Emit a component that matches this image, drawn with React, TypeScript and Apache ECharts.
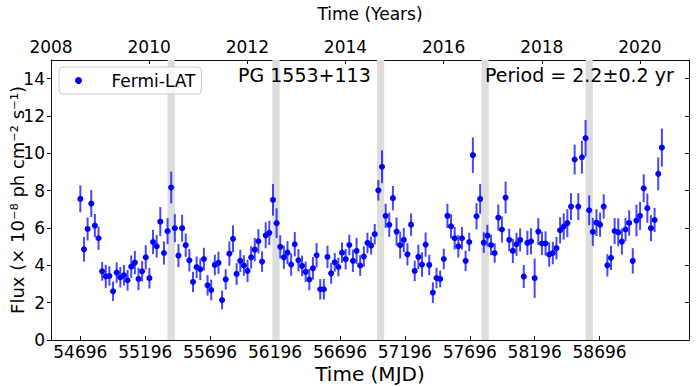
import React, { useEffect, useRef } from "react";
import * as echarts from "echarts";

const mjd = [
  54696, 54724, 54752, 54780, 54808, 54836, 54864, 54892, 54920, 54948,
  54976, 55004, 55032, 55060, 55088, 55116, 55144, 55172, 55200, 55228,
  55256, 55284, 55312, 55340, 55368, 55396, 55424, 55452, 55480, 55508,
  55536, 55564, 55592, 55620, 55648, 55676, 55704, 55732, 55760, 55788,
  55816, 55844, 55872, 55900, 55928, 55956, 55984, 56012, 56040, 56068,
  56096, 56124, 56152, 56180, 56208, 56236, 56264, 56292, 56320, 56348,
  56376, 56404, 56432, 56460, 56488, 56516, 56544, 56572, 56600, 56628,
  56656, 56684, 56712, 56740, 56768, 56796, 56824, 56852, 56880, 56908,
  56936, 56964, 56992, 57020, 57048, 57076, 57104, 57132, 57160, 57188,
  57216, 57244, 57272, 57300, 57328, 57356, 57384, 57412, 57440, 57468,
  57496, 57524, 57552, 57580, 57608, 57636, 57664, 57692, 57720, 57748,
  57776, 57804, 57832, 57860, 57888, 57916, 57944, 57972, 58000, 58028,
  58056, 58084, 58112, 58140, 58168, 58196, 58224, 58252, 58280, 58308,
  58336, 58364, 58392, 58420, 58448, 58476, 58504, 58532, 58560, 58588,
  58616, 58644, 58672, 58700, 58728, 58756, 58784, 58812, 58840, 58868,
  58896, 58924, 58952, 58980, 59008, 59036, 59064, 59092, 59120, 59148,
  59176,
];

const flux = [
  7.56, 4.86, 5.95, 7.31, 6.13, 5.45, 3.68, 3.41, 3.43, 2.61,
  3.61, 3.36, 3.47, 3.2, 3.93, 4.15, 3.27, 3.68, 4.43, 3.31,
  5.25, 5.02, 6.34, 4.66, 5.83, 8.17, 5.99, 4.52, 5.99, 5.08,
  4.27, 3.11, 3.9, 3.79, 4.34, 2.93, 2.68, 4.02, 4.13, 2.14,
  3.25, 4.63, 5.42, 3.54, 4.24, 3.99, 3.7, 4.43, 4.84, 5.29,
  4.2, 5.61, 5.74, 7.51, 6.26, 4.99, 4.43, 4.68, 4.04, 5.13,
  4.27, 3.97, 3.65, 3.24, 3.84, 4.54, 2.72, 2.72, 4.45, 3.57,
  4.16, 3.91, 4.68, 4.33, 5.09, 4.24, 4.77, 3.99, 4.47, 5.2,
  5.06, 5.67, 8.02, 9.28, 6.65, 6.17, 7.6, 5.81, 5.08, 5.36,
  4.59, 6.18, 3.7, 4.45, 4.04, 5.11, 4.02, 2.54, 3.32, 3.27,
  4.34, 6.65, 6.09, 5.45, 5.02, 5.45, 4.24, 5.25, 9.9, 6.63,
  7.56, 5.22, 5.59, 5.09, 4.66, 6.56, 5.92, 7.63, 5.36, 4.77,
  5.13, 5.36, 3.4, 5.2, 5.29, 3.31, 5.81, 5.17, 5.17, 4.58,
  4.66, 4.92, 5.88, 6.08, 6.26, 7.15, 9.67, 7.15, 9.79, 10.81,
  6.95, 5.79, 6.29, 6.18, 7.15, 4.0, 4.4, 5.84, 5.77, 5.27,
  5.92, 6.27, 4.24, 6.4, 6.65, 8.13, 7.06, 5.99, 6.43, 8.9,
  10.31,
];

const fluxErr = [
  0.72, 0.66, 0.62, 0.72, 0.62, 0.62, 0.5, 0.62, 0.52, 0.52,
  0.55, 0.55, 0.55, 0.55, 0.6, 0.62, 0.6, 0.55, 0.65, 0.55,
  0.65, 0.6, 0.78, 0.62, 0.7, 0.85, 0.75, 0.62, 0.72, 0.62,
  0.6, 0.55, 0.58, 0.58, 0.6, 0.55, 0.55, 0.55, 0.6, 0.5,
  0.55, 0.65, 0.72, 0.58, 0.6, 0.55, 0.6, 0.6, 0.62, 0.65,
  0.55, 0.7, 0.65, 0.85, 0.8, 0.62, 0.62, 0.62, 0.6, 0.65,
  0.6, 0.55, 0.55, 0.58, 0.6, 0.65, 0.55, 0.55, 0.6, 0.55,
  0.5, 0.5, 0.55, 0.55, 0.55, 0.6, 0.7, 0.55, 0.55, 0.55,
  0.48, 0.55, 0.55, 0.88, 0.65, 0.65, 0.65, 0.75, 0.72, 0.65,
  0.6, 0.6, 0.55, 0.65, 0.65, 0.65, 0.55, 0.55, 0.55, 0.45,
  0.55, 0.65, 0.65, 0.6, 0.6, 0.6, 0.55, 0.5, 0.95, 0.7,
  0.8, 0.55, 0.58, 0.55, 0.52, 0.7, 0.7, 0.85, 0.6, 0.65,
  0.62, 0.62, 0.62, 0.65, 0.7, 1.05, 0.72, 0.62, 0.65, 0.65,
  0.6, 0.6, 0.7, 0.7, 0.75, 0.72, 0.8, 0.72, 0.88, 0.98,
  0.8, 0.75, 0.72, 0.65, 0.65, 0.6, 0.65, 0.7, 0.75, 0.7,
  0.62, 0.68, 0.68, 0.85, 0.75, 0.75, 0.78, 0.7, 0.65, 0.88,
  1.02,
];

// flare epochs (grey bands), MJD centers and half-width in days
const bandCenters = [55396, 56203, 57009, 57814, 58616];
const bandHalfWidth = 28;

const mjdTicks = [54696, 55196, 55696, 56196, 56696, 57196, 57696, 58196, 58696];
const yearTicks = [2008, 2010, 2012, 2014, 2016, 2018, 2020];
const fluxTicks = [0, 2, 4, 6, 8, 10, 12, 14];

const FONT = "DejaVu Sans";
const plain = (v: number) => String(v);

export default function App() {
  const ref = useRef<HTMLDivElement>(null);

  useEffect(() => {
    if (!ref.current) return;
    const chart = echarts.init(ref.current, null, { renderer: "svg" });
    const points = mjd.map((m, i) => [m, flux[i], fluxErr[i]]);
    const axisLineStyle = { color: "#111", width: 1 };

    chart.setOption({
      animation: false,
      textStyle: { fontFamily: FONT },
      grid: { left: 51, right: 7, top: 60, bottom: 47, containLabel: false, outerBoundsMode: "none" },
      legend: {
        data: [{ name: "Fermi-LAT", icon: "circle" }],
        left: 59,
        top: 67,
        orient: "horizontal",
        padding: [5, 6, 5, 16],
        itemWidth: 14,
        itemHeight: 7,
        borderColor: "#cccccc",
        borderWidth: 1,
        borderRadius: 4,
        backgroundColor: "rgba(255,255,255,0.8)",
        z: 50,
        textStyle: { fontSize: 17, color: "#000", fontFamily: FONT, padding: [0, 0, 0, 21] },
      },
      xAxis: [
        {
          type: "value",
          position: "bottom",
          min: 54470,
          max: 59385,
          name: "Time (MJD)",
          nameLocation: "middle",
          nameGap: 24,
          nameMoveOverlap: false,
          nameTextStyle: { fontSize: 20, color: "#000", fontFamily: FONT },
          axisLine: { show: true, onZero: false, lineStyle: axisLineStyle },
          axisTick: { show: true, inside: true, length: 4, customValues: mjdTicks, lineStyle: { color: "#111" } },
          axisLabel: { customValues: mjdTicks, formatter: plain, fontSize: 17, color: "#000", margin: 3, fontFamily: FONT },
          splitLine: { show: false },
        },
        {
          type: "value",
          position: "top",
          min: 2008,
          max: 2021,
          name: "Time (Years)",
          nameLocation: "middle",
          nameGap: 38,
          nameMoveOverlap: false,
          nameTextStyle: { fontSize: 17, color: "#000", fontFamily: FONT },
          axisLine: { show: true, onZero: false, lineStyle: axisLineStyle },
          axisTick: { show: true, inside: true, length: 4, customValues: yearTicks, lineStyle: { color: "#111" } },
          axisLabel: { customValues: yearTicks, formatter: plain, fontSize: 17, color: "#000", margin: 5, fontFamily: FONT },
          splitLine: { show: false },
        },
      ],
      yAxis: [
        {
          type: "value",
          position: "left",
          min: 0,
          max: 15,
          name: "Flux (× 10⁻⁸ ph cm⁻² s⁻¹)",
          nameLocation: "middle",
          nameGap: 25,
          nameMoveOverlap: false,
          nameTextStyle: { fontSize: 18, color: "#000", fontFamily: FONT },
          axisLine: { show: true, onZero: false, lineStyle: axisLineStyle },
          axisTick: { show: true, inside: false, length: 4, customValues: fluxTicks, lineStyle: { color: "#111" } },
          axisLabel: { customValues: fluxTicks, formatter: plain, fontSize: 17, color: "#000", margin: 6, fontFamily: FONT },
          splitLine: { show: false },
        },
        {
          type: "value",
          position: "right",
          min: 0,
          max: 15,
          axisLine: { show: true, onZero: false, lineStyle: axisLineStyle },
          axisTick: { show: true, inside: true, length: 4, customValues: fluxTicks, lineStyle: { color: "#111" } },
          axisLabel: { show: false },
          splitLine: { show: false },
        },
      ],
      series: [
        {
          name: "bands",
          type: "line",
          data: [],
          xAxisIndex: 0,
          yAxisIndex: 0,
          z: 1,
          silent: true,
          markArea: {
            silent: true,
            itemStyle: { color: "#dddddd", opacity: 1 },
            data: bandCenters.map((c) => [{ xAxis: c - bandHalfWidth }, { xAxis: c + bandHalfWidth }]),
          },
        },
        {
          name: "errors",
          type: "custom",
          xAxisIndex: 0,
          yAxisIndex: 0,
          z: 3,
          silent: true,
          data: points,
          encode: { x: 0, y: 1 },
          renderItem: (params: any, api: any) => {
            const x = api.value(0);
            const y = api.value(1);
            const e = api.value(2);
            const p1 = api.coord([x, y - e]);
            const p2 = api.coord([x, y + e]);
            return {
              type: "line",
              shape: { x1: p1[0], y1: p1[1], x2: p2[0], y2: p2[1] },
              style: { stroke: "rgba(0,0,255,0.72)", lineWidth: 2 },
            };
          },
        },
        {
          name: "Fermi-LAT",
          type: "scatter",
          xAxisIndex: 0,
          yAxisIndex: 0,
          z: 4,
          symbol: "circle",
          symbolSize: 6,
          itemStyle: { color: "#0000ff", opacity: 1 },
          data: points.map((p) => [p[0], p[1]]),
        },
      ],
      graphic: [
        {
          type: "text",
          left: 238,
          top: 65,
          z: 100,
          style: { text: "PG 1553+113", fontSize: 19, fill: "#000", fontFamily: FONT },
        },
        {
          type: "text",
          left: 485,
          top: 65,
          z: 100,
          style: { text: "Period = 2.2±0.2 yr", fontSize: 19, fill: "#000", fontFamily: FONT },
        },
      ],
    });

    return () => chart.dispose();
  }, []);

  return (
    <div
      ref={ref}
      style={{ position: "fixed", left: 0, top: 0, width: 696, height: 387, background: "#fff" }}
    />
  );
}
